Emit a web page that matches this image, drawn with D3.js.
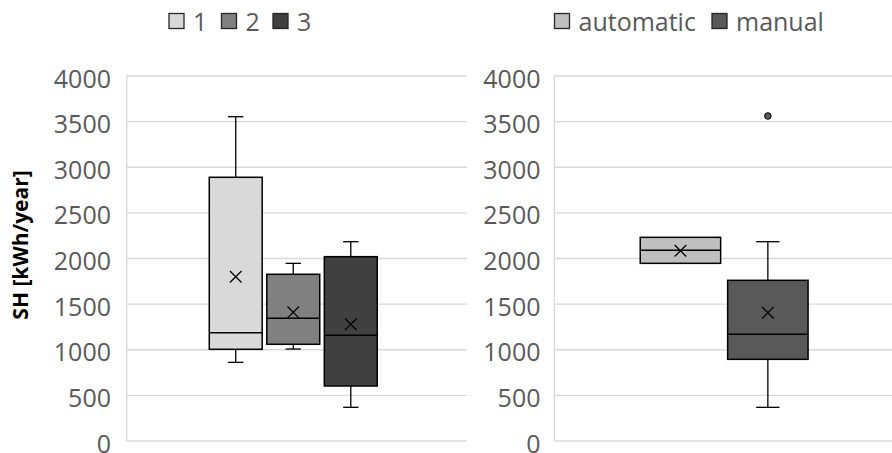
<!DOCTYPE html>
<html><head><meta charset="utf-8">
<script src="https://cdn.jsdelivr.net/npm/d3@7"></script>
<style>body{margin:0;background:#fff}svg{display:block;font-family:"Open Sans",sans-serif}</style>
</head><body><svg id="c" width="892" height="453"></svg>
<script>
// ---- data ----
const leftCategories = ["1", "2", "3"];
const leftMin    = [862, 1008, 369];
const leftQ1     = [1005, 1060, 603];
const leftMedian = [1187, 1345, 1158];
const leftQ3     = [2890, 1827, 2020];
const leftMax    = [3554, 1947, 2184];
const leftMean   = [1800, 1410, 1279];
const leftOutliers = [[], [], []];

const rightCategories = ["automatic", "manual"];
const rightMin    = [1947, 369];
const rightQ1     = [1947, 895];
const rightMedian = [2090, 1169];
const rightQ3     = [2232, 1761];
const rightMax    = [2232, 2184];
const rightMean   = [2085, 1406];
const rightOutliers = [[], [3562]];

const yTicks = [0, 500, 1000, 1500, 2000, 2500, 3000, 3500, 4000];
const yTitle = "SH [kWh/year]";

const leftColors = ["#d9d9d9", "#808080", "#404040"];
const rightColors = ["#bfbfbf", "#595959"];

// ---- drawing ----
const svg = d3.select("#c");
const y = d3.scaleLinear().domain([0, 4000]).range([441, 76]);
const textCol = "#595959";

function panel(cfg) {
  const g = svg.append("g");
  g.selectAll("line.grid").data(yTicks).join("line")
    .attr("x1", cfg.x0).attr("x2", cfg.x1)
    .attr("y1", d => y(d)).attr("y2", d => y(d))
    .attr("stroke", "#d9d9d9").attr("stroke-width", 1.3);
  g.append("line").attr("x1", cfg.x0).attr("x2", cfg.x0)
    .attr("y1", y(4000)).attr("y2", y(0))
    .attr("stroke", "#d9d9d9").attr("stroke-width", 1.3);
  g.selectAll("text.tick").data(yTicks).join("text")
    .attr("x", cfg.labelX).attr("y", d => y(d) + 11.5)
    .attr("text-anchor", "end").attr("fill", textCol)
    .attr("font-size", 25).text(d => d);

  const outer = d3.scaleBand().domain(["g"]).range([cfg.x0, cfg.x1]).paddingOuter(0.512).align(cfg.align);
  const inner = d3.scaleBand().domain(cfg.cats).range([0, outer.bandwidth()]).paddingInner(0.08);
  cfg.cats.forEach((c, i) => {
    const bx = outer("g") + inner(c), bw = inner.bandwidth(), cx = bx + bw / 2;
    const capW = bw * 0.29;
    const bg = g.append("g");
    [[cfg.max[i], cfg.q3[i]], [cfg.min[i], cfg.q1[i]]].forEach(([a, b]) => {
      if (a === b) return;
      bg.append("line").attr("x1", cx).attr("x2", cx).attr("y1", y(a)).attr("y2", y(b))
        .attr("stroke", "#000").attr("stroke-width", 1.3);
      bg.append("line").attr("x1", cx - capW / 2).attr("x2", cx + capW / 2).attr("y1", y(a)).attr("y2", y(a))
        .attr("stroke", "#000").attr("stroke-width", 1.3);
    });
    bg.append("rect").attr("x", bx).attr("width", bw)
      .attr("y", y(cfg.q3[i])).attr("height", y(cfg.q1[i]) - y(cfg.q3[i]))
      .attr("fill", cfg.colors[i]).attr("stroke", "#000").attr("stroke-width", 1.5);
    bg.append("line").attr("x1", bx).attr("x2", bx + bw)
      .attr("y1", y(cfg.median[i])).attr("y2", y(cfg.median[i]))
      .attr("stroke", "#000").attr("stroke-width", 1.5);
    const my = y(cfg.mean[i]), s = 5.8;
    bg.append("path").attr("d", `M${cx - s},${my - s}L${cx + s},${my + s}M${cx - s},${my + s}L${cx + s},${my - s}`)
      .attr("stroke", "#000").attr("stroke-width", 1.3).attr("fill", "none");
    cfg.outliers[i].forEach(v => {
      bg.append("circle").attr("cx", cx).attr("cy", y(v)).attr("r", 3.3)
        .attr("fill", cfg.colors[i]).attr("stroke", "#000").attr("stroke-width", 1);
    });
  });

  const lg = g.append("g");
  cfg.cats.forEach((c, i) => {
    lg.append("rect").attr("x", cfg.legendX[i]).attr("y", 13.5).attr("width", 15).attr("height", 15)
      .attr("fill", cfg.colors[i]).attr("stroke", "#262626").attr("stroke-width", 1.3);
    lg.append("text").attr("x", cfg.legendX[i] + 24).attr("y", 30.5)
      .attr("fill", textCol).attr("font-size", 25).text(c);
  });
}

panel({x0: 126.7, x1: 466.7, labelX: 111, align: 0.48, cats: leftCategories,
  min: leftMin, q1: leftQ1, median: leftMedian, q3: leftQ3, max: leftMax, mean: leftMean,
  outliers: leftOutliers, colors: leftColors, legendX: [169, 221.5, 273]});
panel({x0: 554.3, x1: 894, labelX: 540.5, align: 0.5, cats: rightCategories,
  min: rightMin, q1: rightQ1, median: rightMedian, q3: rightQ3, max: rightMax, mean: rightMean,
  outliers: rightOutliers, colors: rightColors, legendX: [554.5, 712]});

svg.append("text").attr("transform", "translate(27.5,245) rotate(-90)")
  .attr("text-anchor", "middle").attr("font-weight", "bold").attr("font-size", 21)
  .attr("fill", "#000").text(yTitle);
</script></body></html>
